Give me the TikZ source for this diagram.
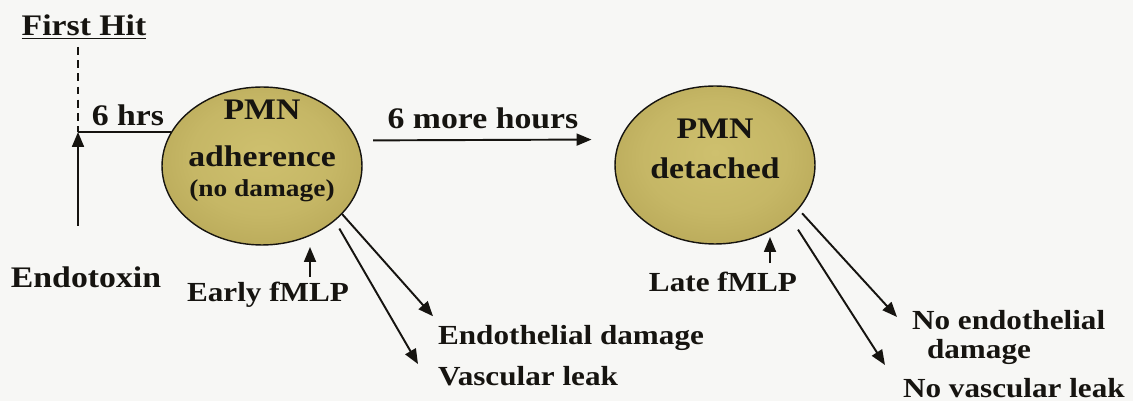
\documentclass[tikz,border=0pt]{standalone}
\usepackage{fontspec}
\setmainfont{Liberation Serif}[FakeStretch=1.13]
\usepackage{tikz}
\usetikzlibrary{arrows.meta,shapes.geometric}
\definecolor{cellgold}{RGB}{206,192,110}
\definecolor{celldark}{RGB}{164,146,68}
\definecolor{inkblack}{RGB}{22,20,16}
\definecolor{paper}{RGB}{247,247,245}
\pgfdeclareradialshading{goldball}{\pgfpoint{0bp}{4bp}}{color(0bp)=(cellgold); color(18bp)=(cellgold!80!celldark); color(50bp)=(celldark)}

\begin{document}
\begin{tikzpicture}[x=0.02cm, y=-0.02cm,
    cell/.style={ellipse, draw=inkblack, line width=0.8pt, shading=goldball,
        minimum width=4cm, minimum height=3.16cm, inner sep=0pt},
    big/.style={font=\fontsize{17}{27}\selectfont\bfseries, text=inkblack, inner sep=1pt},
    small/.style={font=\fontsize{15.7}{22}\selectfont\bfseries, text=inkblack, inner sep=1pt},
    arr/.style={->, >={Triangle[length=8.5pt,width=6.8pt]}, line width=1.1pt, draw=inkblack},
    plain/.style={line width=0.9pt, draw=inkblack}]
    \fill[paper] (0,0) rectangle (1133,401);
    \useasboundingbox (0,0) rectangle (1133,401);

    % First hit and endotoxin
    \node[big] (hit) at (84,27) {\underline{First Hit}};
    \coordinate (dash) at (78,47);
    \coordinate (join) at (78,132);
    \node[big] (endo) at (86,277) {Endotoxin};
    \node[big] (hrs) at (128,115) {6 hrs};

    % Cells
    \node[cell] (adh) at (262,166) {};
    \node[big, align=center] (adhtxt) at (262,151)
        {PMN\\adherence\\[-10pt]{\fontsize{13.8}{16}\selectfont (no damage)}};
    \node[cell] (det) at (715,165) {};
    \node[big, align=center] (dettxt) at (715,149) {PMN\\[-4pt]detached};

    \draw[plain, dashed, dash pattern=on 4.5pt off 3pt] (dash) -- (join);
    \draw[arr, shorten <=22pt] (endo.north -| join) -- (join);
    \draw[plain] (join) -- (join -| adh.159);

    % Second phase
    \node[big] (more) at (483,118) {6 more hours};
    \draw[arr, shorten <=9pt, shorten >=16pt] (adh.15) -- (det.165);

    % fMLP inputs
    \node[small] (early) at (268,295) {Early fMLP};
    \coordinate (eatip) at (310,247);
    \draw[arr, shorten <=2pt] (eatip |- early.north) -- (eatip);
    \node[small] (late) at (723,282) {Late fMLP};
    \coordinate (latip) at (770,237);
    \draw[arr, shorten <=4pt] (latip |- late.north) -- (latip);

    % Outcomes
    \node[small, anchor=west] (dmg) at (436,338) {Endothelial damage};
    \node[small, anchor=west] (leak) at (436,376) {Vascular leak};
    \draw[arr] (adh.-31.5) -- ([shift={(-3,-7)}]dmg.north west);
    \draw[arr, shorten <=5pt] (adh.-37.4) -- ([shift={(-18,0)}]leak.north west);

    \node[small, anchor=west, align=left, font=\fontsize{15.7}{16.5}\selectfont\bfseries] (nodmg) at (910,337)
        {No endothelial\\\hspace{8.5pt}damage};
    \node[small, anchor=west] (noleak) at (901,388) {No vascular leak};
    \draw[arr, shorten <=3pt] (det.-28.6) -- ([shift={(-13,-20)}]nodmg.west);
    \draw[arr, shorten <=8pt] (det.-35.2) -- ([shift={(-16,-23)}]noleak.west);
\end{tikzpicture}
\end{document}
